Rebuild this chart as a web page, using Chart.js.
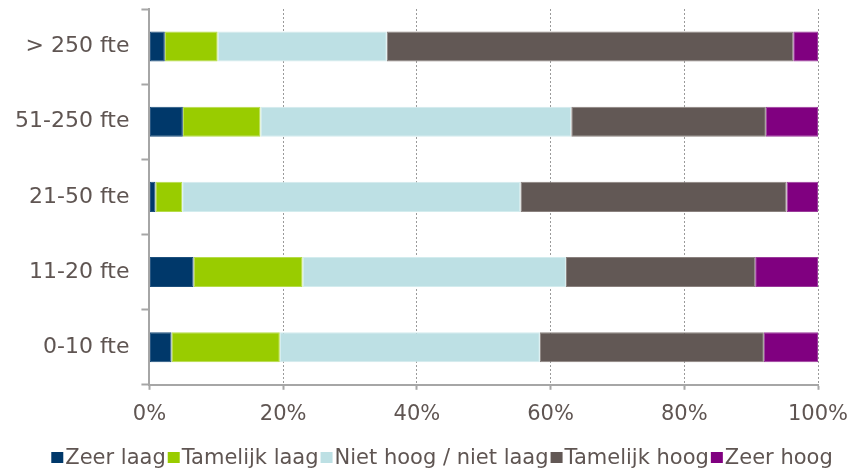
<!DOCTYPE html>
<html>
<head>
<meta charset="utf-8">
<script src="https://cdn.jsdelivr.net/npm/chart.js@4/dist/chart.umd.min.js"></script>
<style>
  html, body { margin: 0; padding: 0; background: #ffffff; }
  #wrap { width: 851px; height: 470px; position: relative; }
</style>
</head>
<body>
<div id="wrap"><canvas id="c"></canvas></div>
<script>
const categories = ["> 250 fte", "51-250 fte", "21-50 fte", "11-20 fte", "0-10 fte"];
const seriesNames = ["Zeer laag", "Tamelijk laag", "Niet hoog / niet laag", "Tamelijk hoog", "Zeer hoog"];
const zeerLaag     = [2.3, 5.0, 0.9, 6.6, 3.3];
const tamelijkLaag = [7.9, 11.6, 4.0, 16.3, 16.2];
const nietHoog     = [25.3, 46.5, 50.6, 39.4, 38.9];
const tamelijkHoog = [60.8, 29.1, 39.8, 28.3, 33.5];
const zeerHoog     = [3.7, 7.8, 4.7, 9.4, 8.1];
const xTicks = [0, 20, 40, 60, 80, 100];

const colors = ["#00386A", "#99CC00", "#BDE0E4", "#625855", "#800080"];
const borders = ["#1d4f7c", "#b5dc4a", "#d3ecee", "#8a817e", "#9a3a9a"];
const textColor = "#5f5552";
const axisColor = "#a6a6a6";
const FONT = '"DejaVu Sans", Verdana, sans-serif';

const seriesData = [zeerLaag, tamelijkLaag, nietHoog, tamelijkHoog, zeerHoog];

const customLegend = {
  id: 'customLegend',
  afterDraw(chart) {
    const ctx = chart.ctx;
    ctx.save();
    ctx.font = '21px ' + FONT;
    ctx.textBaseline = 'middle';
    const box = 12, gap = 2, y = 458;
    const items = chart.data.datasets.map(d => ({ text: d.label, color: d.backgroundColor, w: ctx.measureText(d.label).width }));
    let total = 0;
    items.forEach((it, i) => { total += box + gap + it.w + (i < items.length - 1 ? gap : 0); });
    let x = 442 - total / 2;
    items.forEach(it => {
      ctx.fillStyle = it.color;
      ctx.fillRect(x, y - box / 2, box, box - 1);
      x += box + gap;
      ctx.fillStyle = textColor;
      ctx.fillText(it.text, x, y + 1);
      x += it.w + gap;
    });
    ctx.restore();
  }
};

new Chart(document.getElementById('c'), {
  type: 'bar',
  data: {
    labels: categories,
    datasets: seriesNames.map((name, i) => ({
      label: name,
      data: seriesData[i],
      backgroundColor: colors[i],
      borderColor: borders[i],
      borderWidth: 1,
      borderSkipped: false,
      categoryPercentage: 1.0,
      barPercentage: 0.4
    }))
  },
  options: {
    indexAxis: 'y',
    responsive: true,
    maintainAspectRatio: false,
    animation: false,
    layout: { padding: { left: 3, right: 0, top: 0, bottom: 31 } },
    plugins: {
      legend: { display: false },
      tooltip: { enabled: false }
    },
    scales: {
      x: {
        stacked: true,
        min: 0,
        max: 100,
        afterBuildTicks(scale) { scale.ticks = xTicks.map(v => ({ value: v })); },
        afterFit(scale) { scale.paddingRight = 33; },
        ticks: {
          color: textColor,
          font: { family: FONT, size: 21 },
          padding: 12,
          callback: v => v + '%'
        },
        grid: {
          display: true,
          color: '#9a9a9a',
          lineWidth: 1,
          drawOnChartArea: true,
          drawTicks: true,
          tickLength: 5,
          tickColor: axisColor,
          tickWidth: 2
        },
        border: { display: true, color: axisColor, width: 2, dash: [2, 2] }
      },
      y: {
        stacked: true,
        afterFit(scale) { scale.paddingTop = 9; scale.paddingBottom = 0; },
        ticks: {
          color: textColor,
          font: { family: FONT, size: 22 },
          padding: 12
        },
        grid: {
          display: true,
          offset: true,
          drawOnChartArea: false,
          drawTicks: true,
          tickLength: 8,
          tickColor: axisColor,
          tickWidth: 2,
          color: axisColor
        },
        border: { display: true, color: axisColor, width: 2 }
      }
    }
  },
  plugins: [customLegend]
});
</script>
</body>
</html>
